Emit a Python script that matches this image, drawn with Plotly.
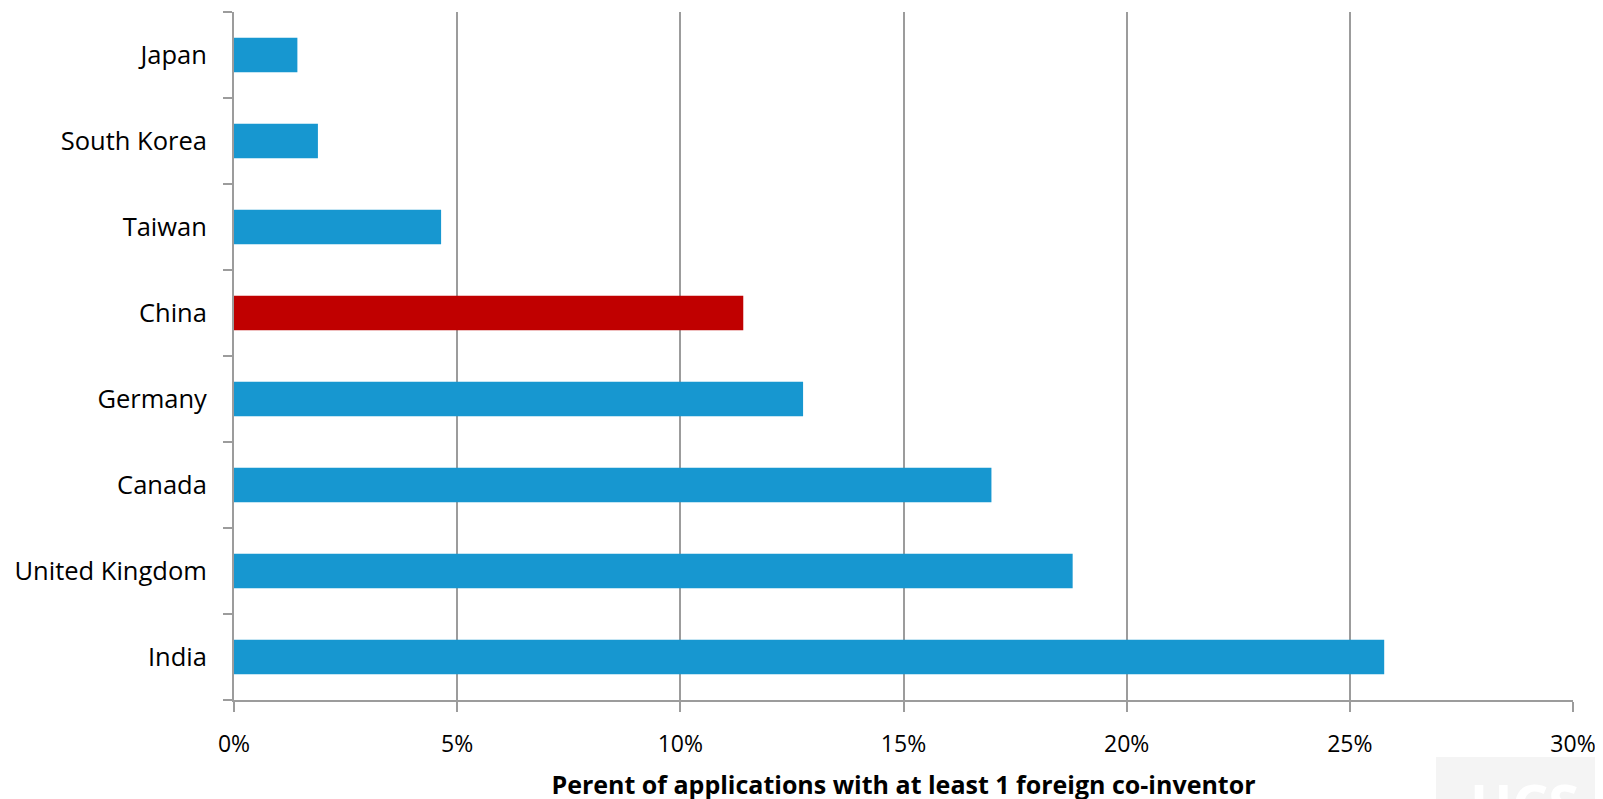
import plotly.graph_objects as go

countries = ["India", "United Kingdom", "Canada", "Germany", "China", "Taiwan", "South Korea", "Japan"]
values = [25.77, 18.79, 16.97, 12.75, 11.41, 4.64, 1.88, 1.42]
colors = ["#1797D0", "#1797D0", "#1797D0", "#1797D0", "#C00000", "#1797D0", "#1797D0", "#1797D0"]
x_ticks = [0, 5, 10, 15, 20, 25, 30]
x_ticklabels = ["0%", "5%", "10%", "15%", "20%", "25%", "30%"]
x_title = "Perent of applications with at least 1 foreign co-inventor"

FONT = "Open Sans"
GRID = "#9C9C9C"

L, R, T, B = 226, 38, 4, 107
W, H = 1603, 799
PW, PH = W - L - R, H - T - B

fig = go.Figure()
fig.add_trace(go.Bar(
    y=countries, x=values, orientation="h",
    marker=dict(color=colors, line=dict(width=0)),
    width=0.4,
    hoverinfo="x+y",
))

fig.update_layout(
    width=W, height=H,
    margin=dict(l=L, r=R, t=T, b=B),
    paper_bgcolor="white", plot_bgcolor="white",
    showlegend=False,
    font=dict(family=FONT, color="#000000", size=24),
    xaxis=dict(
        range=[0, 30], tickvals=x_ticks, ticktext=x_ticklabels,
        showgrid=True, gridcolor=GRID, gridwidth=2,
        showline=True, linecolor=GRID, linewidth=2,
        ticks="outside", ticklen=10, tickcolor=GRID, tickwidth=2,
        ticklabelstandoff=12,
        zeroline=False,
        tickfont=dict(family=FONT, size=23, color="#000"),
        title=dict(text="<b>" + x_title + "</b>", standoff=19,
                   font=dict(family=FONT, size=25, color="#000")),
    ),
    yaxis=dict(
        categoryorder="array", categoryarray=countries,
        showgrid=False, showline=True, linecolor=GRID, linewidth=2,
        ticks="outside", ticklen=9, tickcolor=GRID, tickwidth=2,
        tickson="boundaries", ticklabelstandoff=20,
        tickfont=dict(family=FONT, size=25.5, color="#000"),
        zeroline=False,
    ),
)

# faint watermark box at the bottom-right corner
fig.add_shape(type="rect", xref="paper", yref="paper",
              x0=(1428 - L) / PW, x1=1.05,
              y0=-0.2, y1=-(749 - (H - B)) / PH,
              fillcolor="#F4F4F4", line=dict(width=0), layer="below")
fig.add_annotation(text="<b>UCS</b>", xref="paper", yref="paper",
                   x=(1460 - L) / PW, y=-(755 - (H - B)) / PH,
                   xanchor="left", yanchor="top", showarrow=False,
                   font=dict(family="Noto Sans", size=56, color="#FFFFFF"))

fig.write_html("out.html")
